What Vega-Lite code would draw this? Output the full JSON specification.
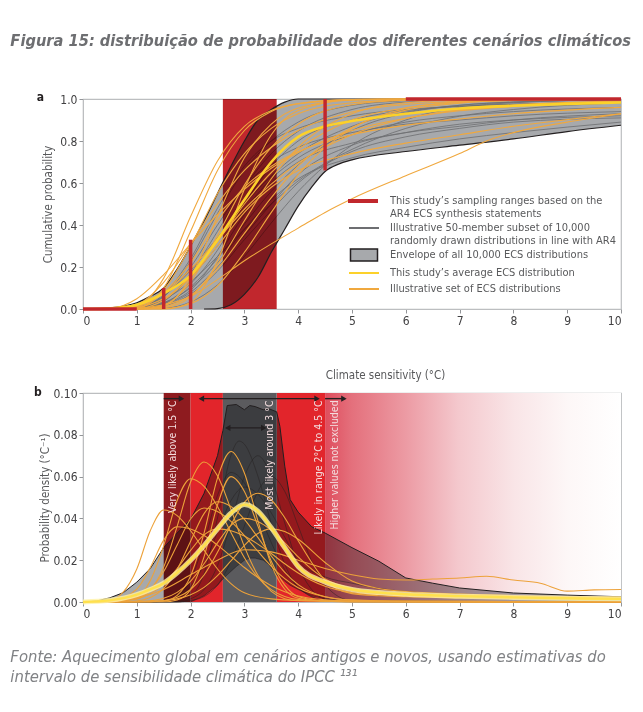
{
"$schema":"https://vega.github.io/schema/vega-lite/v6.json",
"background":"white",
"padding":{"left":10,"top":33,"right":5,"bottom":10},
"config":{"font":"Liberation Sans Narrow, DejaVu Sans Condensed, sans-serif","view":{"stroke":"#bcbec0","strokeWidth":1.2},
"axis":{"grid":false,"labelColor":"#414042","labelFontSize":12,"titleColor":"#58595b","titleFontSize":11.5,"titleFontWeight":"normal","tickColor":"#939598","domainColor":"#bcbec0","tickSize":4,"labelPadding":2},
"legend":{"labelFontSize":11,"labelColor":"#58595b","labelOffset":20,"labelLimit":400,"symbolSize":100,"rowPadding":5,"title":null}},
"title":{"text":"Figura 15: distribuição de probabilidade dos diferentes cenários climáticos","anchor":"start","frame":"bounds","dx":0,"offset":41,"fontSize":16.3,"fontStyle":"italic","fontWeight":"bold","color":"#6d6e71"},
"spacing":3,
"datasets":{
"envA":[{"x":0,"lo":0,"hi":0},{"x":0.5,"lo":0,"hi":0.005},{"x":1,"lo":0,"hi":0.03},{"x":1.25,"lo":0,"hi":0.06},{"x":1.5,"lo":0,"hi":0.1},{"x":1.75,"lo":0,"hi":0.19},{"x":2,"lo":0,"hi":0.3},{"x":2.25,"lo":0,"hi":0.42},{"x":2.5,"lo":0.002,"hi":0.55},{"x":2.75,"lo":0.02,"hi":0.68},{"x":3,"lo":0.07,"hi":0.8},{"x":3.25,"lo":0.15,"hi":0.9},{"x":3.5,"lo":0.27,"hi":0.95},{"x":3.75,"lo":0.38,"hi":0.985},{"x":4,"lo":0.49,"hi":1},{"x":4.25,"lo":0.58,"hi":1},{"x":4.5,"lo":0.655,"hi":1},{"x":4.75,"lo":0.69,"hi":1},{"x":5,"lo":0.71,"hi":1},{"x":6,"lo":0.75,"hi":1},{"x":7,"lo":0.78,"hi":1},{"x":8,"lo":0.81,"hi":1},{"x":9,"lo":0.845,"hi":1},{"x":10,"lo":0.875,"hi":1}],
"grayA":[
{"c":"g1","x":0,"y":0},{"c":"g1","x":1,"y":0.002},{"c":"g1","x":1.5,"y":0.037},{"c":"g1","x":2,"y":0.17},{"c":"g1","x":2.5,"y":0.37},{"c":"g1","x":3,"y":0.58},{"c":"g1","x":3.5,"y":0.74},{"c":"g1","x":4,"y":0.846},{"c":"g1","x":5,"y":0.95},{"c":"g1","x":6,"y":0.985},{"c":"g1","x":7,"y":0.996},{"c":"g1","x":8,"y":0.999},{"c":"g1","x":10,"y":1},
{"c":"g2","x":0,"y":0},{"c":"g2","x":1,"y":0.007},{"c":"g2","x":1.5,"y":0.062},{"c":"g2","x":2,"y":0.184},{"c":"g2","x":2.5,"y":0.34},{"c":"g2","x":3,"y":0.5},{"c":"g2","x":3.5,"y":0.633},{"c":"g2","x":4,"y":0.74},{"c":"g2","x":5,"y":0.87},{"c":"g2","x":6,"y":0.938},{"c":"g2","x":7,"y":0.97},{"c":"g2","x":8,"y":0.985},{"c":"g2","x":10,"y":0.996},
{"c":"g3","x":0,"y":0},{"c":"g3","x":1,"y":0.001},{"c":"g3","x":1.5,"y":0.024},{"c":"g3","x":2,"y":0.106},{"c":"g3","x":2.5,"y":0.24},{"c":"g3","x":3,"y":0.405},{"c":"g3","x":3.5,"y":0.56},{"c":"g3","x":4,"y":0.685},{"c":"g3","x":5,"y":0.85},{"c":"g3","x":6,"y":0.933},{"c":"g3","x":7,"y":0.97},{"c":"g3","x":8,"y":0.986},{"c":"g3","x":10,"y":0.997},
{"c":"g4","x":0,"y":0},{"c":"g4","x":1,"y":0.006},{"c":"g4","x":1.5,"y":0.045},{"c":"g4","x":2,"y":0.13},{"c":"g4","x":2.5,"y":0.25},{"c":"g4","x":3,"y":0.38},{"c":"g4","x":3.5,"y":0.5},{"c":"g4","x":4,"y":0.61},{"c":"g4","x":5,"y":0.76},{"c":"g4","x":6,"y":0.86},{"c":"g4","x":7,"y":0.918},{"c":"g4","x":8,"y":0.95},{"c":"g4","x":10,"y":0.982},
{"c":"g5","x":0,"y":0},{"c":"g5","x":1,"y":0.005},{"c":"g5","x":1.5,"y":0.03},{"c":"g5","x":2,"y":0.1},{"c":"g5","x":2.5,"y":0.22},{"c":"g5","x":3,"y":0.38},{"c":"g5","x":3.5,"y":0.52},{"c":"g5","x":4,"y":0.62},{"c":"g5","x":5,"y":0.72},{"c":"g5","x":6,"y":0.77},{"c":"g5","x":7,"y":0.81},{"c":"g5","x":8,"y":0.84},{"c":"g5","x":10,"y":0.89},
{"c":"g6","x":0,"y":0},{"c":"g6","x":1,"y":0.004},{"c":"g6","x":1.5,"y":0.025},{"c":"g6","x":2,"y":0.09},{"c":"g6","x":2.5,"y":0.25},{"c":"g6","x":3,"y":0.45},{"c":"g6","x":3.5,"y":0.6},{"c":"g6","x":4,"y":0.7},{"c":"g6","x":5,"y":0.79},{"c":"g6","x":6,"y":0.84},{"c":"g6","x":7,"y":0.87},{"c":"g6","x":8,"y":0.9},{"c":"g6","x":10,"y":0.93},
{"c":"g7","x":0,"y":0},{"c":"g7","x":1,"y":0.003},{"c":"g7","x":1.5,"y":0.058},{"c":"g7","x":2,"y":0.227},{"c":"g7","x":2.5,"y":0.455},{"c":"g7","x":3,"y":0.66},{"c":"g7","x":3.5,"y":0.8},{"c":"g7","x":4,"y":0.89},{"c":"g7","x":5,"y":0.97},{"c":"g7","x":6,"y":0.992},{"c":"g7","x":7,"y":0.998},{"c":"g7","x":8,"y":1},{"c":"g7","x":10,"y":1},
{"c":"g8","x":0,"y":0},{"c":"g8","x":1,"y":0.01},{"c":"g8","x":1.5,"y":0.06},{"c":"g8","x":2,"y":0.2},{"c":"g8","x":2.5,"y":0.4},{"c":"g8","x":3,"y":0.58},{"c":"g8","x":3.5,"y":0.7},{"c":"g8","x":4,"y":0.77},{"c":"g8","x":5,"y":0.84},{"c":"g8","x":6,"y":0.88},{"c":"g8","x":7,"y":0.9},{"c":"g8","x":8,"y":0.92},{"c":"g8","x":10,"y":0.94},
{"c":"g9","x":0,"y":0},{"c":"g9","x":1.5,"y":0.004},{"c":"g9","x":2,"y":0.033},{"c":"g9","x":2.5,"y":0.115},{"c":"g9","x":3,"y":0.25},{"c":"g9","x":3.5,"y":0.41},{"c":"g9","x":4,"y":0.56},{"c":"g9","x":5,"y":0.78},{"c":"g9","x":6,"y":0.9},{"c":"g9","x":7,"y":0.96},{"c":"g9","x":8,"y":0.982},{"c":"g9","x":10,"y":0.997},
{"c":"g10","x":0,"y":0},{"c":"g10","x":1,"y":0.003},{"c":"g10","x":1.5,"y":0.02},{"c":"g10","x":2,"y":0.08},{"c":"g10","x":2.5,"y":0.2},{"c":"g10","x":3,"y":0.35},{"c":"g10","x":3.5,"y":0.5},{"c":"g10","x":4,"y":0.64},{"c":"g10","x":5,"y":0.78},{"c":"g10","x":6,"y":0.84},{"c":"g10","x":7,"y":0.88},{"c":"g10","x":8,"y":0.9},{"c":"g10","x":10,"y":0.92},
{"c":"g11","x":0,"y":0},{"c":"g11","x":1,"y":0.004},{"c":"g11","x":1.5,"y":0.04},{"c":"g11","x":2,"y":0.15},{"c":"g11","x":2.5,"y":0.3},{"c":"g11","x":3,"y":0.47},{"c":"g11","x":3.5,"y":0.62},{"c":"g11","x":4,"y":0.72},{"c":"g11","x":5,"y":0.83},{"c":"g11","x":6,"y":0.89},{"c":"g11","x":7,"y":0.92},{"c":"g11","x":8,"y":0.94},{"c":"g11","x":10,"y":0.96},
{"c":"g12","x":0,"y":0},{"c":"g12","x":1,"y":0.002},{"c":"g12","x":1.5,"y":0.028},{"c":"g12","x":2,"y":0.12},{"c":"g12","x":2.5,"y":0.28},{"c":"g12","x":3,"y":0.5},{"c":"g12","x":3.5,"y":0.68},{"c":"g12","x":4,"y":0.8},{"c":"g12","x":5,"y":0.9},{"c":"g12","x":6,"y":0.945},{"c":"g12","x":7,"y":0.965},{"c":"g12","x":8,"y":0.975},{"c":"g12","x":10,"y":0.985},
{"c":"g13","x":0,"y":0},{"c":"g13","x":1,"y":0.001},{"c":"g13","x":1.5,"y":0.015},{"c":"g13","x":2,"y":0.07},{"c":"g13","x":2.5,"y":0.18},{"c":"g13","x":3,"y":0.33},{"c":"g13","x":3.5,"y":0.47},{"c":"g13","x":4,"y":0.6},{"c":"g13","x":5,"y":0.75},{"c":"g13","x":6,"y":0.82},{"c":"g13","x":7,"y":0.86},{"c":"g13","x":8,"y":0.89},{"c":"g13","x":10,"y":0.91},
{"c":"g14","x":0,"y":0},{"c":"g14","x":1,"y":0.008},{"c":"g14","x":1.5,"y":0.07},{"c":"g14","x":2,"y":0.24},{"c":"g14","x":2.5,"y":0.48},{"c":"g14","x":3,"y":0.68},{"c":"g14","x":3.5,"y":0.8},{"c":"g14","x":4,"y":0.86},{"c":"g14","x":5,"y":0.92},{"c":"g14","x":6,"y":0.95},{"c":"g14","x":7,"y":0.965},{"c":"g14","x":8,"y":0.975},{"c":"g14","x":10,"y":0.985}],
"orangeA":[
{"c":"o1","x":0,"y":0},{"c":"o1","x":1,"y":0.004},{"c":"o1","x":1.5,"y":0.1},{"c":"o1","x":2,"y":0.37},{"c":"o1","x":2.5,"y":0.66},{"c":"o1","x":3,"y":0.85},{"c":"o1","x":3.5,"y":0.94},{"c":"o1","x":4,"y":0.977},{"c":"o1","x":5,"y":0.997},{"c":"o1","x":6,"y":1},{"c":"o1","x":10,"y":1},
{"c":"o2","x":0,"y":0},{"c":"o2","x":1,"y":0.006},{"c":"o2","x":1.5,"y":0.09},{"c":"o2","x":2,"y":0.3},{"c":"o2","x":2.5,"y":0.55},{"c":"o2","x":3,"y":0.74},{"c":"o2","x":3.5,"y":0.86},{"c":"o2","x":4,"y":0.93},{"c":"o2","x":5,"y":0.982},{"c":"o2","x":6,"y":0.996},{"c":"o2","x":7,"y":0.999},{"c":"o2","x":10,"y":1},
{"c":"o3","x":0,"y":0},{"c":"o3","x":1,"y":0},{"c":"o3","x":1.5,"y":0.014},{"c":"o3","x":2,"y":0.15},{"c":"o3","x":2.5,"y":0.44},{"c":"o3","x":3,"y":0.72},{"c":"o3","x":3.5,"y":0.88},{"c":"o3","x":4,"y":0.957},{"c":"o3","x":5,"y":0.995},{"c":"o3","x":6,"y":1},{"c":"o3","x":10,"y":1},
{"c":"o4","x":0,"y":0},{"c":"o4","x":1,"y":0},{"c":"o4","x":1.5,"y":0.019},{"c":"o4","x":2,"y":0.13},{"c":"o4","x":2.5,"y":0.35},{"c":"o4","x":3,"y":0.59},{"c":"o4","x":3.5,"y":0.77},{"c":"o4","x":4,"y":0.88},{"c":"o4","x":5,"y":0.973},{"c":"o4","x":6,"y":0.994},{"c":"o4","x":7,"y":0.999},{"c":"o4","x":10,"y":1},
{"c":"o5","x":0,"y":0},{"c":"o5","x":1,"y":0.003},{"c":"o5","x":1.5,"y":0.042},{"c":"o5","x":2,"y":0.156},{"c":"o5","x":2.5,"y":0.32},{"c":"o5","x":3,"y":0.5},{"c":"o5","x":3.5,"y":0.65},{"c":"o5","x":4,"y":0.76},{"c":"o5","x":5,"y":0.9},{"c":"o5","x":6,"y":0.958},{"c":"o5","x":7,"y":0.983},{"c":"o5","x":8,"y":0.993},{"c":"o5","x":10,"y":0.999},
{"c":"o6","x":0,"y":0},{"c":"o6","x":1,"y":0},{"c":"o6","x":1.5,"y":0.006},{"c":"o6","x":2,"y":0.058},{"c":"o6","x":2.5,"y":0.21},{"c":"o6","x":3,"y":0.42},{"c":"o6","x":3.5,"y":0.62},{"c":"o6","x":4,"y":0.77},{"c":"o6","x":5,"y":0.93},{"c":"o6","x":6,"y":0.982},{"c":"o6","x":7,"y":0.995},{"c":"o6","x":8,"y":0.999},{"c":"o6","x":10,"y":1},
{"c":"o7","x":0,"y":0},{"c":"o7","x":1.5,"y":0},{"c":"o7","x":2,"y":0.031},{"c":"o7","x":2.5,"y":0.23},{"c":"o7","x":3,"y":0.57},{"c":"o7","x":3.5,"y":0.83},{"c":"o7","x":4,"y":0.945},{"c":"o7","x":5,"y":0.997},{"c":"o7","x":6,"y":1},{"c":"o7","x":10,"y":1},
{"c":"o8","x":0,"y":0},{"c":"o8","x":1,"y":0},{"c":"o8","x":1.5,"y":0.01},{"c":"o8","x":2,"y":0.064},{"c":"o8","x":2.5,"y":0.19},{"c":"o8","x":3,"y":0.36},{"c":"o8","x":3.5,"y":0.53},{"c":"o8","x":4,"y":0.68},{"c":"o8","x":5,"y":0.864},{"c":"o8","x":6,"y":0.947},{"c":"o8","x":7,"y":0.98},{"c":"o8","x":8,"y":0.993},{"c":"o8","x":10,"y":0.999},
{"c":"o9","x":0,"y":0},{"c":"o9","x":0.5,"y":0},{"c":"o9","x":1,"y":0.021},{"c":"o9","x":1.5,"y":0.127},{"c":"o9","x":2,"y":0.31},{"c":"o9","x":2.5,"y":0.5},{"c":"o9","x":3,"y":0.66},{"c":"o9","x":3.5,"y":0.77},{"c":"o9","x":4,"y":0.85},{"c":"o9","x":5,"y":0.938},{"c":"o9","x":6,"y":0.974},{"c":"o9","x":7,"y":0.989},{"c":"o9","x":8,"y":0.995},{"c":"o9","x":10,"y":0.999},
{"c":"o10","x":0,"y":0},{"c":"o10","x":1,"y":0.012},{"c":"o10","x":1.5,"y":0.073},{"c":"o10","x":2,"y":0.19},{"c":"o10","x":2.5,"y":0.33},{"c":"o10","x":3,"y":0.475},{"c":"o10","x":3.5,"y":0.595},{"c":"o10","x":4,"y":0.695},{"c":"o10","x":5,"y":0.83},{"c":"o10","x":6,"y":0.907},{"c":"o10","x":7,"y":0.948},{"c":"o10","x":8,"y":0.971},{"c":"o10","x":10,"y":0.99},
{"c":"o11","x":0,"y":0},{"c":"o11","x":1,"y":0.004},{"c":"o11","x":1.5,"y":0.02},{"c":"o11","x":2,"y":0.06},{"c":"o11","x":2.5,"y":0.14},{"c":"o11","x":3,"y":0.23},{"c":"o11","x":3.5,"y":0.31},{"c":"o11","x":4,"y":0.385},{"c":"o11","x":4.5,"y":0.46},{"c":"o11","x":5,"y":0.525},{"c":"o11","x":6,"y":0.635},{"c":"o11","x":7,"y":0.74},{"c":"o11","x":7.5,"y":0.8},{"c":"o11","x":8,"y":0.84},{"c":"o11","x":9,"y":0.89},{"c":"o11","x":10,"y":0.93},
{"c":"o12","x":0,"y":0},{"c":"o12","x":0.5,"y":0},{"c":"o12","x":1,"y":0.01},{"c":"o12","x":1.5,"y":0.147},{"c":"o12","x":2,"y":0.44},{"c":"o12","x":2.5,"y":0.705},{"c":"o12","x":3,"y":0.87},{"c":"o12","x":3.5,"y":0.945},{"c":"o12","x":4,"y":0.978},{"c":"o12","x":5,"y":0.997},{"c":"o12","x":6,"y":1},{"c":"o12","x":10,"y":1},
{"c":"o13","x":0,"y":0},{"c":"o13","x":1.5,"y":0.002},{"c":"o13","x":2,"y":0.025},{"c":"o13","x":2.5,"y":0.11},{"c":"o13","x":3,"y":0.27},{"c":"o13","x":3.5,"y":0.46},{"c":"o13","x":4,"y":0.64},{"c":"o13","x":5,"y":0.86},{"c":"o13","x":6,"y":0.955},{"c":"o13","x":7,"y":0.987},{"c":"o13","x":8,"y":0.996},{"c":"o13","x":10,"y":1},
{"c":"o14","x":0,"y":0},{"c":"o14","x":0.5,"y":0.0025},{"c":"o14","x":1,"y":0.049},{"c":"o14","x":1.5,"y":0.164},{"c":"o14","x":2,"y":0.31},{"c":"o14","x":2.5,"y":0.45},{"c":"o14","x":3,"y":0.57},{"c":"o14","x":3.5,"y":0.67},{"c":"o14","x":4,"y":0.745},{"c":"o14","x":5,"y":0.85},{"c":"o14","x":6,"y":0.908},{"c":"o14","x":7,"y":0.944},{"c":"o14","x":8,"y":0.965},{"c":"o14","x":10,"y":0.985},
{"c":"o15","x":0,"y":0},{"c":"o15","x":1,"y":0.01},{"c":"o15","x":1.5,"y":0.05},{"c":"o15","x":2,"y":0.15},{"c":"o15","x":2.5,"y":0.3},{"c":"o15","x":3,"y":0.46},{"c":"o15","x":3.5,"y":0.58},{"c":"o15","x":4,"y":0.66},{"c":"o15","x":5,"y":0.74},{"c":"o15","x":6,"y":0.79},{"c":"o15","x":7,"y":0.83},{"c":"o15","x":8,"y":0.87},{"c":"o15","x":10,"y":0.93},
{"c":"o16","x":0,"y":0},{"c":"o16","x":1,"y":0.02},{"c":"o16","x":1.5,"y":0.08},{"c":"o16","x":2,"y":0.22},{"c":"o16","x":2.5,"y":0.42},{"c":"o16","x":3,"y":0.58},{"c":"o16","x":3.5,"y":0.68},{"c":"o16","x":4,"y":0.75},{"c":"o16","x":5,"y":0.83},{"c":"o16","x":6,"y":0.875},{"c":"o16","x":7,"y":0.905},{"c":"o16","x":8,"y":0.93},{"c":"o16","x":10,"y":0.96}],
"yellowA":[{"c":"y","x":0,"y":0},{"c":"y","x":0.5,"y":0.002},{"c":"y","x":1,"y":0.02},{"c":"y","x":1.5,"y":0.075},{"c":"y","x":2,"y":0.16},{"c":"y","x":2.5,"y":0.33},{"c":"y","x":3,"y":0.52},{"c":"y","x":3.5,"y":0.7},{"c":"y","x":4,"y":0.82},{"c":"y","x":4.5,"y":0.87},{"c":"y","x":5,"y":0.895},{"c":"y","x":6,"y":0.93},{"c":"y","x":7,"y":0.955},{"c":"y","x":8,"y":0.968},{"c":"y","x":9,"y":0.977},{"c":"y","x":10,"y":0.983}],
"redA":[{"x":0,"x2":1,"y":0,"y2":0},{"x":1.5,"x2":1.5,"y":0,"y2":0.1},{"x":2,"x2":2,"y":0,"y2":0.33},{"x":4.5,"x2":4.5,"y":0.66,"y2":1},{"x":6,"x2":10,"y":1,"y2":1}],
"envB":[{"x":0,"lo":0,"hi":0},{"x":0.25,"lo":0,"hi":0.0005},{"x":0.5,"lo":0,"hi":0.002},{"x":0.75,"lo":0,"hi":0.0045},{"x":1,"lo":0,"hi":0.0095},{"x":1.25,"lo":0,"hi":0.016},{"x":1.5,"lo":0,"hi":0.026},{"x":1.75,"lo":0,"hi":0.033},{"x":2,"lo":0,"hi":0.0395},{"x":2.25,"lo":0.003,"hi":0.052},{"x":2.5,"lo":0.008,"hi":0.07},{"x":2.6,"lo":0.011,"hi":0.082},{"x":2.68,"lo":0.013,"hi":0.094},{"x":2.85,"lo":0.017,"hi":0.0945},{"x":3,"lo":0.02,"hi":0.092},{"x":3.1,"lo":0.021,"hi":0.094},{"x":3.2,"lo":0.021,"hi":0.0935},{"x":3.35,"lo":0.02,"hi":0.092},{"x":3.45,"lo":0.018,"hi":0.0925},{"x":3.6,"lo":0.013,"hi":0.091},{"x":3.66,"lo":0.012,"hi":0.084},{"x":3.75,"lo":0.01,"hi":0.065},{"x":3.85,"lo":0.008,"hi":0.049},{"x":4,"lo":0.006,"hi":0.043},{"x":4.25,"lo":0.003,"hi":0.036},{"x":4.5,"lo":0.0015,"hi":0.033},{"x":5,"lo":0.0005,"hi":0.026},{"x":5.5,"lo":0,"hi":0.0195},{"x":6,"lo":0,"hi":0.0115},{"x":6.5,"lo":0,"hi":0.009},{"x":7,"lo":0,"hi":0.0067},{"x":8,"lo":0,"hi":0.0043},{"x":9,"lo":0,"hi":0.0033},{"x":10,"lo":0,"hi":0.0025}],
"grayB":[
{"c":"k1","x":0,"y":0},{"c":"k1","x":1.5,"y":0},{"c":"k1","x":1.75,"y":0.0003},{"c":"k1","x":2,"y":0.0028},{"c":"k1","x":2.25,"y":0.0136},{"c":"k1","x":2.5,"y":0.0402},{"c":"k1","x":2.75,"y":0.0702},{"c":"k1","x":2.9,"y":0.077},{"c":"k1","x":3,"y":0.0755},{"c":"k1","x":3.25,"y":0.0603},{"c":"k1","x":3.5,"y":0.0375},{"c":"k1","x":3.75,"y":0.0182},{"c":"k1","x":4,"y":0.0069},{"c":"k1","x":4.5,"y":0.0008},{"c":"k1","x":5,"y":0.0002},{"c":"k1","x":10,"y":0},
{"c":"k2","x":0,"y":0},{"c":"k2","x":1.75,"y":0},{"c":"k2","x":2,"y":0.0015},{"c":"k2","x":2.25,"y":0.006},{"c":"k2","x":2.5,"y":0.0174},{"c":"k2","x":2.75,"y":0.0378},{"c":"k2","x":3,"y":0.06},{"c":"k2","x":3.25,"y":0.07},{"c":"k2","x":3.5,"y":0.06},{"c":"k2","x":3.75,"y":0.0378},{"c":"k2","x":4,"y":0.0174},{"c":"k2","x":4.25,"y":0.006},{"c":"k2","x":4.5,"y":0.0015},{"c":"k2","x":5,"y":0.0002},{"c":"k2","x":10,"y":0},
{"c":"k3","x":0,"y":0},{"c":"k3","x":1.25,"y":0},{"c":"k3","x":1.5,"y":0.0005},{"c":"k3","x":1.75,"y":0.0027},{"c":"k3","x":2,"y":0.0107},{"c":"k3","x":2.25,"y":0.0284},{"c":"k3","x":2.5,"y":0.051},{"c":"k3","x":2.75,"y":0.062},{"c":"k3","x":3,"y":0.0569},{"c":"k3","x":3.25,"y":0.0438},{"c":"k3","x":3.5,"y":0.0284},{"c":"k3","x":3.75,"y":0.0154},{"c":"k3","x":4,"y":0.0071},{"c":"k3","x":4.5,"y":0.0009},{"c":"k3","x":5,"y":0.0001},{"c":"k3","x":10,"y":0},
{"c":"k4","x":0,"y":0},{"c":"k4","x":1.25,"y":0.0001},{"c":"k4","x":1.5,"y":0.0006},{"c":"k4","x":1.75,"y":0.0024},{"c":"k4","x":2,"y":0.0074},{"c":"k4","x":2.25,"y":0.0179},{"c":"k4","x":2.5,"y":0.0334},{"c":"k4","x":2.75,"y":0.0485},{"c":"k4","x":3,"y":0.055},{"c":"k4","x":3.25,"y":0.0516},{"c":"k4","x":3.5,"y":0.0426},{"c":"k4","x":3.75,"y":0.031},{"c":"k4","x":4,"y":0.0198},{"c":"k4","x":4.5,"y":0.012},{"c":"k4","x":5,"y":0.009},{"c":"k4","x":5.5,"y":0.0065},{"c":"k4","x":6,"y":0.005},{"c":"k4","x":7,"y":0.0035},{"c":"k4","x":8,"y":0.0025},{"c":"k4","x":10,"y":0.0015},
{"c":"k5","x":0,"y":0},{"c":"k5","x":1.75,"y":0},{"c":"k5","x":2,"y":0.0007},{"c":"k5","x":2.25,"y":0.0026},{"c":"k5","x":2.5,"y":0.0081},{"c":"k5","x":2.75,"y":0.0195},{"c":"k5","x":3,"y":0.0364},{"c":"k5","x":3.25,"y":0.0529},{"c":"k5","x":3.5,"y":0.06},{"c":"k5","x":3.75,"y":0.0529},{"c":"k5","x":4,"y":0.0364},{"c":"k5","x":4.25,"y":0.0195},{"c":"k5","x":4.5,"y":0.0081},{"c":"k5","x":5,"y":0.0007},{"c":"k5","x":10,"y":0}],
"orangeB":[
{"c":"d1","x":0,"y":0},{"c":"d1","x":0.5,"y":0.0008},{"c":"d1","x":1,"y":0.0158},{"c":"d1","x":1.25,"y":0.0341},{"c":"d1","x":1.5,"y":0.044},{"c":"d1","x":1.75,"y":0.0413},{"c":"d1","x":2,"y":0.0341},{"c":"d1","x":2.25,"y":0.0248},{"c":"d1","x":2.5,"y":0.0158},{"c":"d1","x":2.75,"y":0.0088},{"c":"d1","x":3,"y":0.0044},{"c":"d1","x":3.5,"y":0.0015},{"c":"d1","x":4,"y":0.0008},{"c":"d1","x":5,"y":0.0005},{"c":"d1","x":6,"y":0.0003},{"c":"d1","x":10,"y":0.0002},
{"c":"d2","x":0,"y":0},{"c":"d2","x":1,"y":0.0014},{"c":"d2","x":1.25,"y":0.0057},{"c":"d2","x":1.5,"y":0.0167},{"c":"d2","x":1.75,"y":0.0362},{"c":"d2","x":2,"y":0.0574},{"c":"d2","x":2.25,"y":0.067},{"c":"d2","x":2.5,"y":0.0604},{"c":"d2","x":2.75,"y":0.0443},{"c":"d2","x":3,"y":0.0265},{"c":"d2","x":3.25,"y":0.0128},{"c":"d2","x":3.5,"y":0.0051},{"c":"d2","x":3.75,"y":0.0016},{"c":"d2","x":4,"y":0.0006},{"c":"d2","x":5,"y":0.0002},{"c":"d2","x":10,"y":0},
{"c":"d3","x":0,"y":0},{"c":"d3","x":1,"y":0.0026},{"c":"d3","x":1.25,"y":0.0102},{"c":"d3","x":1.5,"y":0.027},{"c":"d3","x":1.75,"y":0.0486},{"c":"d3","x":2,"y":0.059},{"c":"d3","x":2.25,"y":0.0553},{"c":"d3","x":2.5,"y":0.0457},{"c":"d3","x":2.75,"y":0.0333},{"c":"d3","x":3,"y":0.0212},{"c":"d3","x":3.25,"y":0.0118},{"c":"d3","x":3.5,"y":0.0059},{"c":"d3","x":3.75,"y":0.0026},{"c":"d3","x":4,"y":0.0012},{"c":"d3","x":5,"y":0.0003},{"c":"d3","x":10,"y":0},
{"c":"d4","x":0,"y":0},{"c":"d4","x":1.25,"y":0.0001},{"c":"d4","x":1.5,"y":0.0005},{"c":"d4","x":1.75,"y":0.0032},{"c":"d4","x":2,"y":0.0125},{"c":"d4","x":2.25,"y":0.033},{"c":"d4","x":2.5,"y":0.0593},{"c":"d4","x":2.75,"y":0.072},{"c":"d4","x":3,"y":0.0617},{"c":"d4","x":3.25,"y":0.0389},{"c":"d4","x":3.5,"y":0.0179},{"c":"d4","x":3.75,"y":0.0061},{"c":"d4","x":4,"y":0.0018},{"c":"d4","x":4.5,"y":0.0004},{"c":"d4","x":5,"y":0.0002},{"c":"d4","x":10,"y":0},
{"c":"d5","x":0,"y":0},{"c":"d5","x":1.25,"y":0.0002},{"c":"d5","x":1.5,"y":0.0007},{"c":"d5","x":1.75,"y":0.0023},{"c":"d5","x":2,"y":0.006},{"c":"d5","x":2.25,"y":0.0129},{"c":"d5","x":2.5,"y":0.0238},{"c":"d5","x":2.75,"y":0.0368},{"c":"d5","x":3,"y":0.0477},{"c":"d5","x":3.25,"y":0.052},{"c":"d5","x":3.5,"y":0.0488},{"c":"d5","x":3.75,"y":0.0403},{"c":"d5","x":4,"y":0.0293},{"c":"d5","x":4.5,"y":0.0104},{"c":"d5","x":5,"y":0.004},{"c":"d5","x":5.5,"y":0.003},{"c":"d5","x":6,"y":0.0025},{"c":"d5","x":7,"y":0.002},{"c":"d5","x":8,"y":0.0017},{"c":"d5","x":10,"y":0.0012},
{"c":"d6","x":0,"y":0},{"c":"d6","x":1,"y":0.0005},{"c":"d6","x":1.25,"y":0.0021},{"c":"d6","x":1.5,"y":0.0065},{"c":"d6","x":1.75,"y":0.0156},{"c":"d6","x":2,"y":0.0291},{"c":"d6","x":2.25,"y":0.0423},{"c":"d6","x":2.5,"y":0.048},{"c":"d6","x":2.75,"y":0.0457},{"c":"d6","x":3,"y":0.0395},{"c":"d6","x":3.25,"y":0.0309},{"c":"d6","x":3.5,"y":0.022},{"c":"d6","x":3.75,"y":0.0142},{"c":"d6","x":4,"y":0.0083},{"c":"d6","x":4.5,"y":0.0025},{"c":"d6","x":5,"y":0.0008},{"c":"d6","x":6,"y":0.0003},{"c":"d6","x":10,"y":0.0001},
{"c":"d7","x":0,"y":0},{"c":"d7","x":1,"y":0.0002},{"c":"d7","x":1.25,"y":0.0006},{"c":"d7","x":1.5,"y":0.0018},{"c":"d7","x":1.75,"y":0.0046},{"c":"d7","x":2,"y":0.01},{"c":"d7","x":2.25,"y":0.0183},{"c":"d7","x":2.5,"y":0.0283},{"c":"d7","x":2.75,"y":0.0367},{"c":"d7","x":3,"y":0.04},{"c":"d7","x":3.25,"y":0.0385},{"c":"d7","x":3.5,"y":0.0343},{"c":"d7","x":3.75,"y":0.0283},{"c":"d7","x":4,"y":0.0216},{"c":"d7","x":4.5,"y":0.011},{"c":"d7","x":5,"y":0.0065},{"c":"d7","x":5.5,"y":0.0048},{"c":"d7","x":6,"y":0.004},{"c":"d7","x":7,"y":0.0032},{"c":"d7","x":8,"y":0.0026},{"c":"d7","x":10,"y":0.002},
{"c":"d8","x":0,"y":0},{"c":"d8","x":0.5,"y":0.0001},{"c":"d8","x":1,"y":0.002},{"c":"d8","x":1.25,"y":0.0061},{"c":"d8","x":1.5,"y":0.0146},{"c":"d8","x":1.75,"y":0.0273},{"c":"d8","x":2,"y":0.0397},{"c":"d8","x":2.25,"y":0.045},{"c":"d8","x":2.5,"y":0.0433},{"c":"d8","x":2.75,"y":0.0386},{"c":"d8","x":3,"y":0.0318},{"c":"d8","x":3.25,"y":0.0243},{"c":"d8","x":3.5,"y":0.0171},{"c":"d8","x":3.75,"y":0.0112},{"c":"d8","x":4,"y":0.0068},{"c":"d8","x":4.5,"y":0.0025},{"c":"d8","x":5,"y":0.001},{"c":"d8","x":6,"y":0.0004},{"c":"d8","x":10,"y":0.0002},
{"c":"d9","x":0,"y":0},{"c":"d9","x":1.5,"y":0.0006},{"c":"d9","x":1.75,"y":0.0015},{"c":"d9","x":2,"y":0.0035},{"c":"d9","x":2.25,"y":0.007},{"c":"d9","x":2.5,"y":0.0126},{"c":"d9","x":2.75,"y":0.0197},{"c":"d9","x":3,"y":0.0271},{"c":"d9","x":3.25,"y":0.0328},{"c":"d9","x":3.5,"y":0.035},{"c":"d9","x":3.75,"y":0.0337},{"c":"d9","x":4,"y":0.03},{"c":"d9","x":4.5,"y":0.0189},{"c":"d9","x":5,"y":0.01},{"c":"d9","x":5.5,"y":0.0065},{"c":"d9","x":6,"y":0.005},{"c":"d9","x":7,"y":0.0038},{"c":"d9","x":8,"y":0.003},{"c":"d9","x":10,"y":0.0024},
{"c":"d10","x":0,"y":0},{"c":"d10","x":0.5,"y":0.0003},{"c":"d10","x":1,"y":0.0062},{"c":"d10","x":1.25,"y":0.0165},{"c":"d10","x":1.5,"y":0.0296},{"c":"d10","x":1.75,"y":0.036},{"c":"d10","x":2,"y":0.0349},{"c":"d10","x":2.25,"y":0.0318},{"c":"d10","x":2.5,"y":0.0272},{"c":"d10","x":2.75,"y":0.0219},{"c":"d10","x":3,"y":0.0165},{"c":"d10","x":3.25,"y":0.0117},{"c":"d10","x":3.5,"y":0.0078},{"c":"d10","x":3.75,"y":0.0049},{"c":"d10","x":4,"y":0.0029},{"c":"d10","x":4.5,"y":0.001},{"c":"d10","x":5,"y":0.0004},{"c":"d10","x":6,"y":0.0002},{"c":"d10","x":10,"y":0.0001},
{"c":"d11","x":0,"y":0},{"c":"d11","x":0.5,"y":0.0003},{"c":"d11","x":1,"y":0.002},{"c":"d11","x":1.5,"y":0.006},{"c":"d11","x":2,"y":0.013},{"c":"d11","x":2.5,"y":0.02},{"c":"d11","x":3,"y":0.025},{"c":"d11","x":3.5,"y":0.024},{"c":"d11","x":4,"y":0.02},{"c":"d11","x":4.5,"y":0.016},{"c":"d11","x":5,"y":0.013},{"c":"d11","x":5.5,"y":0.011},{"c":"d11","x":6,"y":0.0105},{"c":"d11","x":6.5,"y":0.011},{"c":"d11","x":7,"y":0.0115},{"c":"d11","x":7.5,"y":0.0123},{"c":"d11","x":8,"y":0.0105},{"c":"d11","x":8.5,"y":0.009},{"c":"d11","x":9,"y":0.0052},{"c":"d11","x":9.5,"y":0.0058},{"c":"d11","x":10,"y":0.006},
{"c":"d12","x":0,"y":0},{"c":"d12","x":1.5,"y":0.0001},{"c":"d12","x":1.75,"y":0.001},{"c":"d12","x":2,"y":0.006},{"c":"d12","x":2.25,"y":0.0216},{"c":"d12","x":2.5,"y":0.0465},{"c":"d12","x":2.75,"y":0.06},{"c":"d12","x":3,"y":0.0529},{"c":"d12","x":3.25,"y":0.0364},{"c":"d12","x":3.5,"y":0.0195},{"c":"d12","x":3.75,"y":0.0081},{"c":"d12","x":4,"y":0.0026},{"c":"d12","x":4.5,"y":0.0004},{"c":"d12","x":5,"y":0.0001},{"c":"d12","x":10,"y":0},
{"c":"d13","x":0,"y":0},{"c":"d13","x":0.5,"y":0.0001},{"c":"d13","x":1,"y":0.0015},{"c":"d13","x":1.25,"y":0.004},{"c":"d13","x":1.5,"y":0.0087},{"c":"d13","x":1.75,"y":0.016},{"c":"d13","x":2,"y":0.0247},{"c":"d13","x":2.25,"y":0.0321},{"c":"d13","x":2.5,"y":0.035},{"c":"d13","x":2.75,"y":0.0341},{"c":"d13","x":3,"y":0.0316},{"c":"d13","x":3.25,"y":0.0277},{"c":"d13","x":3.5,"y":0.0232},{"c":"d13","x":3.75,"y":0.0183},{"c":"d13","x":4,"y":0.0139},{"c":"d13","x":4.5,"y":0.0075},{"c":"d13","x":5,"y":0.0045},{"c":"d13","x":5.5,"y":0.0035},{"c":"d13","x":6,"y":0.003},{"c":"d13","x":7,"y":0.0024},{"c":"d13","x":8,"y":0.002},{"c":"d13","x":10,"y":0.0015}],
"yellowB":[{"x":0,"y":0},{"x":0.5,"y":0.0008},{"x":1,"y":0.0035},{"x":1.25,"y":0.006},{"x":1.5,"y":0.009},{"x":1.75,"y":0.014},{"x":2,"y":0.02},{"x":2.25,"y":0.027},{"x":2.5,"y":0.035},{"x":2.75,"y":0.0425},{"x":3,"y":0.0466},{"x":3.25,"y":0.0435},{"x":3.5,"y":0.0355},{"x":3.75,"y":0.026},{"x":4,"y":0.017},{"x":4.5,"y":0.0095},{"x":5,"y":0.006},{"x":5.5,"y":0.0045},{"x":6,"y":0.0037},{"x":7,"y":0.0028},{"x":8,"y":0.0022},{"x":9,"y":0.0018},{"x":10,"y":0.0015}],
"arrowsB":[{"x":1.5,"x2":1.85,"y":0.0973},{"x":2.18,"x2":4.37,"y":0.0973},{"x":4.5,"x2":4.87,"y":0.0973},{"x":2.67,"x2":3.38,"y":0.0833}],
"headsR":[{"x":1.83,"y":0.0973},{"x":4.35,"y":0.0973},{"x":4.85,"y":0.0973},{"x":3.36,"y":0.0833}],
"headsL":[{"x":2.2,"y":0.0973},{"x":2.69,"y":0.0833}],
"labelsB":[{"x":1.68,"y":0.0965,"t":"Very likely above 1.5 °C"},{"x":3.47,"y":0.0965,"t":"Most likely around 3 °C"},{"x":4.38,"y":0.0965,"t":"Likely in range 2°C to 4.5 °C"},{"x":4.68,"y":0.0965,"t":"Higher values not excluded"}]
},
"vconcat":[
{
"width":538,"height":210,
"title":{"text":"a","anchor":"start","frame":"bounds","fontSize":12,"fontWeight":"bold","color":"#231f20","offset":0,"dx":-6,"dy":11},
"layer":[
{"data":{"name":"envA"},"mark":{"type":"area","interpolate":"monotone"},
"encoding":{"x":{"field":"x","type":"quantitative","scale":{"domain":[0,10],"nice":false},"axis":{"values":[0,1,2,3,4,5,6,7,8,9,10],"title":"Climate sensitivity (°C)","titlePadding":43,"titleX":302}},
"y":{"field":"hi","type":"quantitative","scale":{"domain":[0,1],"nice":false},"axis":{"values":[0,0.1,0.2,0.3,0.4,0.5,0.6,0.7,0.8,0.9,1],"format":".1f","title":"Cumulative probability","titlePadding":6}},
"y2":{"field":"lo"},
"fill":{"datum":"e","type":"nominal","scale":{"domain":["e"],"range":["#a7a9ac"]},"legend":{"orient":"none","legendX":275,"legendY":150,"symbolType":"M-2.7,-1.2H2.7V1.2H-2.7Z","symbolStrokeColor":"#231f20","symbolStrokeWidth":1.5,"symbolOpacity":1,"labelExpr":"'Envelope of all 10,000 ECS distributions'"}}}},
{"data":{"name":"grayA"},"mark":{"type":"line","strokeWidth":0.9,"interpolate":"monotone","opacity":0.9},
"encoding":{"x":{"field":"x","type":"quantitative"},"y":{"field":"y","type":"quantitative"},"detail":{"field":"c"},
"color":{"datum":"g","type":"nominal","scale":{"domain":["g","e","y","o"],"range":["#6d6e71","transparent","#fcd12a","#f0a83e"]},
"legend":{"orient":"none","legendX":275,"legendY":123,"rowPadding":5,"symbolType":"M-3,0H3","symbolStrokeWidth":2,"symbolOpacity":1,
"labelExpr":"datum.value == 'g' ? ['Illustrative 50-member subset of 10,000', 'randomly drawn distributions in line with AR4'] : datum.value == 'e' ? ' ' : datum.value == 'y' ? 'This study’s average ECS distribution' : 'Illustrative set of ECS distributions'"}}}},
{"data":{"values":[{"x":2.6,"x2":3.6}]},"mark":{"type":"rect","color":"#c1272d","blend":"multiply"},
"encoding":{"x":{"field":"x","type":"quantitative"},"x2":{"field":"x2"},"y":{"datum":1},"y2":{"datum":0}}},
{"data":{"name":"envA"},"transform":[{"filter":"datum.x >= 0.5"}],"mark":{"type":"line","strokeWidth":1.2,"interpolate":"monotone","color":"#231f20"},
"encoding":{"x":{"field":"x","type":"quantitative"},"y":{"field":"hi","type":"quantitative"}}},
{"data":{"name":"envA"},"transform":[{"filter":"datum.x >= 2.25"}],"mark":{"type":"line","strokeWidth":1.2,"interpolate":"monotone","color":"#231f20"},
"encoding":{"x":{"field":"x","type":"quantitative"},"y":{"field":"lo","type":"quantitative"}}},
{"data":{"name":"orangeA"},"mark":{"type":"line","strokeWidth":1.1,"interpolate":"monotone"},
"encoding":{"x":{"field":"x","type":"quantitative"},"y":{"field":"y","type":"quantitative"},"detail":{"field":"c"},"color":{"datum":"o","type":"nominal"}}},
{"data":{"name":"yellowA"},"mark":{"type":"line","strokeWidth":2.6,"interpolate":"monotone"},
"encoding":{"x":{"field":"x","type":"quantitative"},"y":{"field":"y","type":"quantitative"},"color":{"datum":"y","type":"nominal"}}},
{"data":{"name":"redA"},"mark":{"type":"rule","strokeWidth":3.5},
"encoding":{"x":{"field":"x","type":"quantitative"},"x2":{"field":"x2"},"y":{"field":"y","type":"quantitative"},"y2":{"field":"y2"},
"stroke":{"datum":"s","type":"nominal","scale":{"domain":["s"],"range":["#c1272d"]},"legend":{"orient":"none","legendX":273,"legendY":95,"symbolType":"M-3,0H3","symbolStrokeWidth":4,"symbolOpacity":1,"labelExpr":"['This study’s sampling ranges based on the', 'AR4 ECS synthesis statements']"}}}}
]
},
{
"title":{"text":["Fonte: Aquecimento global em cenários antigos e novos, usando estimativas do","intervalo de sensibilidade climática do IPCC ¹³¹"],"orient":"bottom","anchor":"start","frame":"bounds","dx":-23,"offset":29,"fontSize":16.5,"fontStyle":"italic","fontWeight":"normal","color":"#808285","lineHeight":20},
"vconcat":[
{
"width":538,"height":209,
"title":{"text":"b","anchor":"start","frame":"bounds","fontSize":12,"fontWeight":"bold","color":"#231f20","offset":0,"dx":-6,"dy":12},
"layer":[
{"data":{"values":[{"x":1.5,"x2":2}]},"mark":{"type":"rect","color":"#8e1b1f"},
"encoding":{"x":{"field":"x","type":"quantitative","scale":{"domain":[0,10],"nice":false},"axis":{"values":[0,1,2,3,4,5,6,7,8,9,10],"title":null}},"x2":{"field":"x2"},
"y":{"datum":0.1,"type":"quantitative","scale":{"domain":[0,0.1],"nice":false},"axis":{"values":[0,0.01,0.02,0.03,0.04,0.05,0.06,0.07,0.08,0.09,0.1],"format":".2f","title":"Probability density (°C⁻¹)","titlePadding":2}},"y2":{"datum":0}}},
{"data":{"values":[{"x":2,"x2":2.6},{"x":3.6,"x2":4.5}]},"mark":{"type":"rect","color":"#e2252b"},
"encoding":{"x":{"field":"x","type":"quantitative"},"x2":{"field":"x2"},"y":{"datum":0.1},"y2":{"datum":0}}},
{"data":{"values":[{"x":2.6,"x2":3.6}]},"mark":{"type":"rect","color":"#5b5b5e"},
"encoding":{"x":{"field":"x","type":"quantitative"},"x2":{"field":"x2"},"y":{"datum":0.1},"y2":{"datum":0}}},
{"data":{"values":[{"x":4.5,"x2":10}]},"mark":{"type":"rect","color":{"gradient":"linear","x1":0,"y1":0,"x2":1,"y2":0,"stops":[{"offset":0,"color":"#df4d5d"},{"offset":0.09,"color":"#e4707c"},{"offset":0.27,"color":"#ec9aa3"},{"offset":0.45,"color":"#f4c8cd"},{"offset":0.64,"color":"#f9e5e7"},{"offset":0.82,"color":"#fdf7f7"},{"offset":1,"color":"#ffffff"}]}},
"encoding":{"x":{"field":"x","type":"quantitative"},"x2":{"field":"x2"},"y":{"datum":0.1},"y2":{"datum":0}}},
{"data":{"name":"envB"},"mark":{"type":"area","color":"#a7a9ac","blend":"multiply"},
"encoding":{"x":{"field":"x","type":"quantitative"},"y":{"field":"hi","type":"quantitative"},"y2":{"field":"lo"}}},
{"data":{"name":"envB"},"mark":{"type":"line","color":"#231f20","strokeWidth":1},
"encoding":{"x":{"field":"x","type":"quantitative"},"y":{"field":"hi","type":"quantitative"}}},
{"data":{"name":"envB"},"transform":[{"filter":"datum.x >= 2 && datum.x <= 5"}],"mark":{"type":"line","color":"#231f20","strokeWidth":0.8,"opacity":0.7},
"encoding":{"x":{"field":"x","type":"quantitative"},"y":{"field":"lo","type":"quantitative"}}},
{"data":{"name":"grayB"},"mark":{"type":"line","color":"#231f20","strokeWidth":0.8,"opacity":0.6,"interpolate":"monotone"},
"encoding":{"x":{"field":"x","type":"quantitative"},"y":{"field":"y","type":"quantitative"},"detail":{"field":"c"}}},
{"data":{"name":"orangeB"},"mark":{"type":"line","color":"#eda23a","strokeWidth":1.1,"interpolate":"monotone"},
"encoding":{"x":{"field":"x","type":"quantitative"},"y":{"field":"y","type":"quantitative"},"detail":{"field":"c"}}},
{"data":{"name":"yellowB"},"mark":{"type":"line","color":"#fff3a6","strokeWidth":5,"opacity":0.8,"interpolate":"monotone"},
"encoding":{"x":{"field":"x","type":"quantitative"},"y":{"field":"y","type":"quantitative"}}},
{"data":{"name":"yellowB"},"mark":{"type":"line","color":"#ffe14d","strokeWidth":2.4,"interpolate":"monotone"},
"encoding":{"x":{"field":"x","type":"quantitative"},"y":{"field":"y","type":"quantitative"}}},
{"data":{"name":"arrowsB"},"mark":{"type":"rule","color":"#231f20","strokeWidth":1.4},
"encoding":{"x":{"field":"x","type":"quantitative"},"x2":{"field":"x2"},"y":{"field":"y","type":"quantitative"}}},
{"data":{"name":"headsR"},"mark":{"type":"point","shape":"triangle-right","filled":true,"size":40,"color":"#231f20","opacity":1},
"encoding":{"x":{"field":"x","type":"quantitative"},"y":{"field":"y","type":"quantitative"}}},
{"data":{"name":"headsL"},"mark":{"type":"point","shape":"triangle-left","filled":true,"size":40,"color":"#231f20","opacity":1},
"encoding":{"x":{"field":"x","type":"quantitative"},"y":{"field":"y","type":"quantitative"}}},
{"data":{"name":"labelsB"},"mark":{"type":"text","angle":270,"align":"right","baseline":"middle","fontSize":10.5,"color":"#f3dcdd"},
"encoding":{"x":{"field":"x","type":"quantitative"},"y":{"field":"y","type":"quantitative"},"text":{"field":"t"}}}
]
}
]
}
]
}
